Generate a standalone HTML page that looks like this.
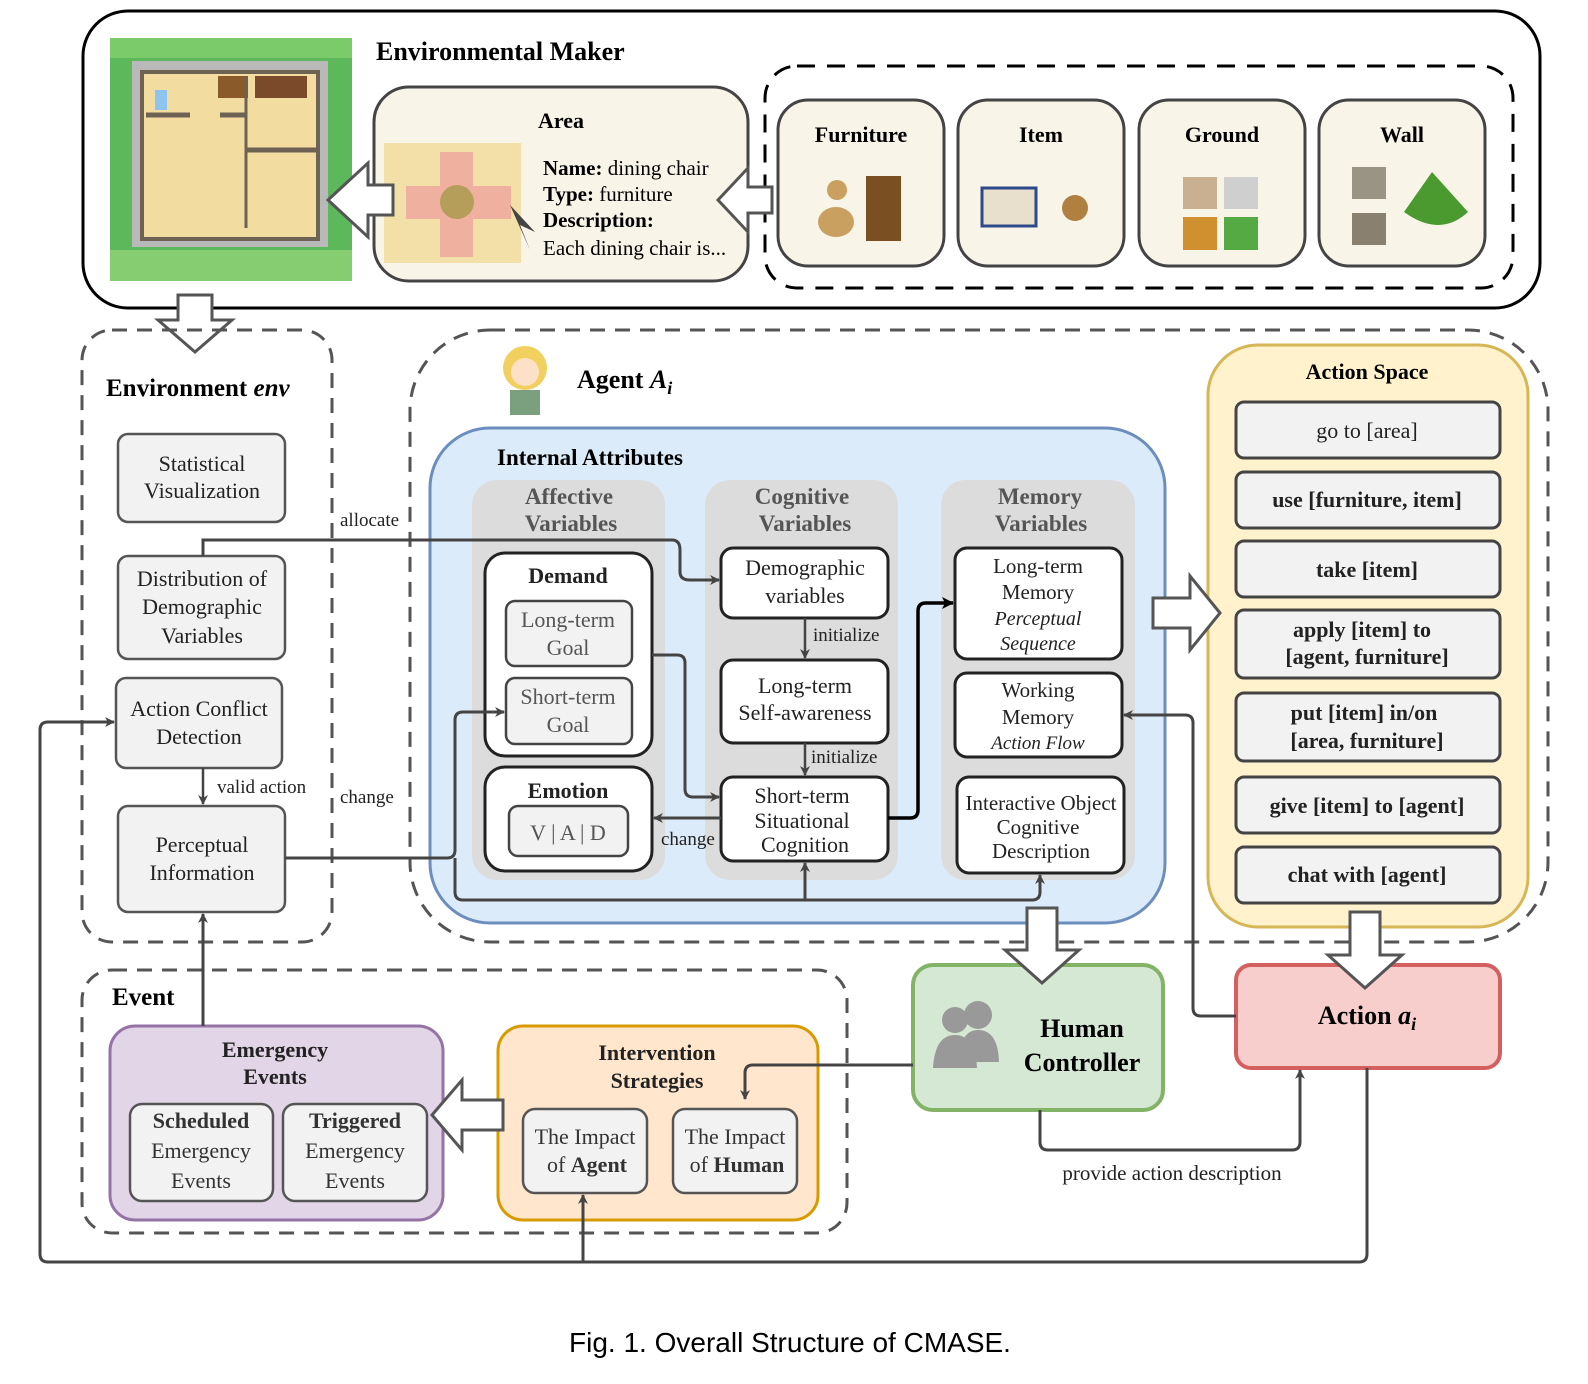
<!DOCTYPE html>
<html><head><meta charset="utf-8"><style>
html,body{margin:0;padding:0;background:#fff;}
svg{display:block;}
text{font-family:"Liberation Serif",serif;}
.b{font-weight:bold;}
</style></head><body>
<svg width="1588" height="1384" viewBox="0 0 1588 1384" xmlns="http://www.w3.org/2000/svg">
<defs>
<marker id="ah" markerWidth="10" markerHeight="10" refX="9" refY="5" orient="auto" markerUnits="userSpaceOnUse">
<path d="M0,0 L10,5 L0,10 L3,5 z" fill="#444"/></marker>
<marker id="ahk" markerWidth="12" markerHeight="12" refX="11" refY="6" orient="auto" markerUnits="userSpaceOnUse">
<path d="M0,0 L12,6 L0,12 L3,6 z" fill="#000"/></marker>
</defs>

<!-- Top box -->
<rect x="83" y="11" width="1457" height="297" rx="45" fill="#fff" stroke="#000" stroke-width="3"/>
<!-- map -->
<rect x="110" y="38" width="242" height="243" fill="#5cb85a"/>
<rect x="110" y="38" width="242" height="20" fill="#7ccb6a"/>
<rect x="110" y="250" width="242" height="31" fill="#86cc70"/>
<rect x="132" y="61" width="196" height="186" fill="#b9b9b9"/>
<rect x="142" y="72" width="176" height="167" fill="#f2dca0" stroke="#6d6253" stroke-width="4"/>
<rect x="218" y="76" width="30" height="22" fill="#8a5a2a"/>
<rect x="255" y="76" width="52" height="22" fill="#7a4a2a"/>
<rect x="150" y="150" width="0" height="0"/>
<line x1="246" y1="150" x2="316" y2="150" stroke="#6d6253" stroke-width="5"/>
<line x1="146" y1="115" x2="190" y2="115" stroke="#6d6253" stroke-width="5"/>
<line x1="220" y1="115" x2="245" y2="115" stroke="#6d6253" stroke-width="5"/>
<line x1="246" y1="76" x2="246" y2="228" stroke="#6d6253" stroke-width="3"/>
<rect x="155" y="90" width="12" height="20" fill="#8ec4f0"/>
<!-- Environmental Maker -->
<text x="376" y="60" font-size="26" class="b">Environmental Maker</text>
<rect x="374" y="87" width="374" height="194" rx="35" fill="#f8f5e8" stroke="#444" stroke-width="3"/>
<text x="561" y="128" font-size="22" class="b" text-anchor="middle">Area</text>
<rect x="384" y="143" width="137" height="120" fill="#f3dfa8"/>
<rect x="440" y="152" width="33" height="105" fill="#f0b0a0"/>
<rect x="406" y="186" width="105" height="33" fill="#f0b0a0"/>
<circle cx="457" cy="202" r="17" fill="#b59d5a"/>
<path d="M510,205 L530,250 L520,225 L535,232 z" fill="#444"/>
<text font-size="21" x="543" y="175"><tspan class="b">Name:</tspan> dining chair</text>
<text font-size="21" x="543" y="201"><tspan class="b">Type:</tspan> furniture</text>
<text font-size="21" x="543" y="227" class="b">Description:</text>
<text font-size="21" x="543" y="255">Each dining chair is...</text>
<polygon points="328,200 368,163 368,185 393,185 393,215 368,215 368,237" fill="#fff" stroke="#555" stroke-width="3"/>
<rect x="765" y="66" width="748" height="222" rx="32" fill="none" stroke="#000" stroke-width="3" stroke-dasharray="18,12"/>
<polygon points="718,200 748,168 748,187 772,187 772,213 748,213 748,232" fill="#fff" stroke="#555" stroke-width="3"/>
<g fill="#f8f5e8" stroke="#444" stroke-width="3">
<rect x="778" y="100" width="166" height="166" rx="30"/>
<rect x="958" y="100" width="166" height="166" rx="30"/>
<rect x="1139" y="100" width="166" height="166" rx="30"/>
<rect x="1319" y="100" width="166" height="166" rx="30"/>
</g>
<g font-size="22" class="b" text-anchor="middle">
<text x="861" y="142">Furniture</text><text x="1041" y="142">Item</text>
<text x="1222" y="142">Ground</text><text x="1402" y="142">Wall</text>
</g>
<circle cx="837" cy="190" r="10" fill="#c9a060"/><ellipse cx="836" cy="222" rx="18" ry="15" fill="#c9a060"/>
<rect x="866" y="176" width="35" height="65" fill="#7a5022"/>
<rect x="982" y="188" width="54" height="38" fill="#e8e0cc" stroke="#2c4a8a" stroke-width="3"/>
<circle cx="1075" cy="208" r="13" fill="#b08040"/>
<rect x="1183" y="177" width="34" height="32" fill="#c8b090"/><rect x="1224" y="177" width="34" height="32" fill="#cfcfcf"/>
<rect x="1183" y="217" width="34" height="33" fill="#d09030"/><rect x="1224" y="217" width="34" height="33" fill="#55aa44"/>
<rect x="1352" y="167" width="34" height="32" fill="#9a9484"/><rect x="1352" y="213" width="34" height="32" fill="#8a8070"/>
<path d="M1432,172 L1468,212 Q1440,238 1404,212 z" fill="#4a9a30"/>
<polygon points="195,352 232,320 212,320 212,295 178,295 178,320 158,320" fill="#fff" stroke="#555" stroke-width="3"/>

<!-- Environment env -->
<rect x="82" y="330" width="250" height="612" rx="30" fill="none" stroke="#555" stroke-width="3" stroke-dasharray="15,10"/>
<text x="106" y="396" font-size="25" class="b">Environment <tspan font-style="italic">env</tspan></text>
<g fill="#f2f2f2" stroke="#555" stroke-width="2.5">
<rect x="118" y="434" width="167" height="88" rx="10"/>
<rect x="118" y="556" width="167" height="103" rx="10"/>
<rect x="116" y="678" width="166" height="90" rx="10"/>
<rect x="118" y="806" width="167" height="106" rx="10"/>
</g>
<g font-size="22" text-anchor="middle" fill="#222">
<text x="202" y="471">Statistical</text><text x="202" y="498">Visualization</text>
<text x="202" y="586">Distribution of</text><text x="202" y="614">Demographic</text><text x="202" y="643">Variables</text>
<text x="199" y="716">Action Conflict</text><text x="199" y="744">Detection</text>
<text x="202" y="852">Perceptual</text><text x="202" y="880">Information</text>
</g>

<!-- Agent region -->
<rect x="410" y="330" width="1138" height="612" rx="80" fill="none" stroke="#555" stroke-width="3" stroke-dasharray="15,10"/>
<circle cx="525" cy="368" r="22" fill="#f2d060"/><circle cx="525" cy="372" r="14" fill="#fde0c8"/>
<rect x="510" y="390" width="30" height="25" fill="#7aa080"/>
<text x="577" y="388" font-size="26" class="b">Agent <tspan font-style="italic">A<tspan font-size="18" dy="6">i</tspan></tspan></text>

<rect x="430" y="428" width="735" height="495" rx="60" fill="#dcebf9" stroke="#6c8ebf" stroke-width="3"/>
<text x="497" y="465" font-size="23" class="b">Internal Attributes</text>
<g fill="#dcdcdc">
<rect x="472" y="480" width="193" height="400" rx="25"/>
<rect x="705" y="480" width="193" height="400" rx="25"/>
<rect x="941" y="480" width="194" height="400" rx="25"/>
</g>
<g font-size="23" class="b" text-anchor="middle" fill="#555">
<text x="569" y="504">Affective</text><text x="571" y="531">Variables</text>
<text x="802" y="504">Cognitive</text><text x="805" y="531">Variables</text>
<text x="1040" y="504">Memory</text><text x="1041" y="531">Variables</text>
</g>
<g fill="#fff" stroke="#222" stroke-width="3">
<rect x="485" y="553" width="167" height="203" rx="20"/>
<rect x="485" y="767" width="167" height="104" rx="20"/>
<rect x="721" y="548" width="167" height="70" rx="12"/>
<rect x="721" y="660" width="167" height="83" rx="12"/>
<rect x="721" y="777" width="167" height="84" rx="12"/>
<rect x="955" y="548" width="167" height="111" rx="12"/>
<rect x="955" y="673" width="167" height="84" rx="12"/>
<rect x="957" y="777" width="167" height="96" rx="12"/>
</g>
<g fill="#f2f2f2" stroke="#444" stroke-width="2.5">
<rect x="506" y="601" width="126" height="65" rx="9"/>
<rect x="506" y="678" width="126" height="66" rx="9"/>
<rect x="509" y="806" width="119" height="50" rx="9"/>
</g>
<g font-size="22" text-anchor="middle" fill="#222">
<text x="568" y="583" class="b">Demand</text>
<text x="568" y="627" fill="#555">Long-term</text><text x="568" y="655" fill="#555">Goal</text>
<text x="568" y="704" fill="#555">Short-term</text><text x="568" y="732" fill="#555">Goal</text>
<text x="568" y="798" class="b">Emotion</text>
<text x="568" y="840" fill="#555">V | A | D</text>
<text x="805" y="575">Demographic</text><text x="805" y="603">variables</text>
<text x="805" y="693">Long-term</text><text x="805" y="720">Self-awareness</text>
<text x="802" y="803">Short-term</text><text x="802" y="828">Situational</text><text x="805" y="852">Cognition</text>
<text x="1038" y="573" font-size="21">Long-term</text><text x="1038" y="599" font-size="21">Memory</text>
<text x="1038" y="625" font-size="20" font-style="italic">Perceptual</text><text x="1038" y="650" font-size="20" font-style="italic">Sequence</text>
<text x="1038" y="697" font-size="21">Working</text><text x="1038" y="724" font-size="21">Memory</text>
<text x="1038" y="749" font-size="19" font-style="italic">Action Flow</text>
<text x="1041" y="810" font-size="21">Interactive Object</text><text x="1038" y="834" font-size="21">Cognitive</text><text x="1041" y="858" font-size="21">Description</text>
</g>

<!-- Action space -->
<rect x="1208" y="345" width="320" height="582" rx="50" fill="#fff2cc" stroke="#d6b656" stroke-width="3"/>
<text x="1367" y="379" font-size="22" class="b" text-anchor="middle">Action Space</text>
<g fill="#f2f2f2" stroke="#444" stroke-width="3">
<rect x="1236" y="402" width="264" height="56" rx="8"/>
<rect x="1236" y="472" width="264" height="56" rx="8"/>
<rect x="1236" y="541" width="264" height="56" rx="8"/>
<rect x="1236" y="610" width="264" height="68" rx="8"/>
<rect x="1236" y="693" width="264" height="68" rx="8"/>
<rect x="1236" y="777" width="264" height="56" rx="8"/>
<rect x="1236" y="847" width="264" height="56" rx="8"/>
</g>
<g font-size="22" text-anchor="middle" fill="#222">
<text x="1367" y="438">go to [area]</text>
<text x="1367" y="507" class="b">use [furniture, item]</text>
<text x="1367" y="577" class="b">take [item]</text>
<text x="1362" y="637" class="b">apply [item] to</text><text x="1367" y="664" class="b">[agent, furniture]</text>
<text x="1364" y="720" class="b">put [item] in/on</text><text x="1367" y="748" class="b">[area, furniture]</text>
<text x="1367" y="813" class="b">give [item] to [agent]</text>
<text x="1367" y="882" class="b">chat with [agent]</text>
</g>
<polygon points="1220,613 1190,576 1190,598 1153,598 1153,628 1190,628 1190,650" fill="#fff" stroke="#555" stroke-width="3"/>

<!-- Human controller, action -->
<rect x="913" y="965" width="250" height="145" rx="20" fill="#d5e8d4" stroke="#82b366" stroke-width="4"/>
<circle cx="955" cy="1020" r="13" fill="#999"/><circle cx="978" cy="1015" r="14" fill="#999"/>
<path d="M933,1068 Q935,1035 955,1035 Q975,1035 977,1068 z" fill="#999"/><path d="M958,1062 Q960,1030 978,1030 Q998,1030 999,1062 z" fill="#999"/>
<text x="1082" y="1037" font-size="26" class="b" text-anchor="middle">Human</text>
<text x="1082" y="1071" font-size="26" class="b" text-anchor="middle">Controller</text>
<rect x="1236" y="965" width="264" height="103" rx="15" fill="#f8cecc" stroke="#d35f5f" stroke-width="4"/>
<text x="1367" y="1024" font-size="26" class="b" text-anchor="middle">Action <tspan font-style="italic">a<tspan font-size="18" dy="6">i</tspan></tspan></text>
<polygon points="1042,983 1079,950 1057,950 1057,908 1027,908 1027,950 1005,950" fill="#fff" stroke="#555" stroke-width="3"/>
<polygon points="1365,988 1402,955 1380,955 1380,912 1350,912 1350,955 1328,955" fill="#fff" stroke="#555" stroke-width="3"/>

<!-- Event -->
<rect x="82" y="970" width="765" height="263" rx="30" fill="none" stroke="#555" stroke-width="3" stroke-dasharray="15,10"/>
<text x="112" y="1005" font-size="25" class="b">Event</text>
<rect x="110" y="1026" width="333" height="194" rx="25" fill="#e1d5e7" stroke="#9673a6" stroke-width="3"/>
<rect x="498" y="1026" width="320" height="194" rx="25" fill="#ffe6cc" stroke="#d79b00" stroke-width="3"/>
<g fill="#f2f2f2" stroke="#555" stroke-width="2.5">
<rect x="130" y="1104" width="143" height="97" rx="12"/>
<rect x="283" y="1104" width="144" height="97" rx="12"/>
<rect x="523" y="1109" width="124" height="84" rx="12"/>
<rect x="673" y="1109" width="124" height="84" rx="12"/>
</g>
<g font-size="22" text-anchor="middle" fill="#222">
<text x="275" y="1057" class="b">Emergency</text><text x="275" y="1084" class="b">Events</text>
<text x="201" y="1128" class="b" fill="#333">Scheduled</text><text x="201" y="1158" fill="#333">Emergency</text><text x="201" y="1188" fill="#333">Events</text>
<text x="355" y="1128" class="b" fill="#333">Triggered</text><text x="355" y="1158" fill="#333">Emergency</text><text x="355" y="1188" fill="#333">Events</text>
<text x="657" y="1060" class="b">Intervention</text><text x="657" y="1088" class="b">Strategies</text>
<text x="585" y="1144" fill="#333">The Impact</text><text x="587" y="1172" fill="#333">of <tspan class="b">Agent</tspan></text>
<text x="735" y="1144" fill="#333">The Impact</text><text x="737" y="1172" fill="#333">of <tspan class="b">Human</tspan></text>
</g>
<polygon points="432,1115 462,1080 462,1100 503,1100 503,1130 462,1130 462,1150" fill="#fff" stroke="#555" stroke-width="3"/>

<!-- connectors -->
<g fill="none" stroke="#444" stroke-width="3">
<path d="M203,556 V540 H672 Q680,540 680,550 V572 Q680,580 690,580 H719" marker-end="url(#ah)"/>
<path d="M285,858 H447 Q455,858 455,850 V720 Q455,712 463,712 H504" marker-end="url(#ah)"/>
<path d="M455,858 V892 Q455,900 463,900 H1032 Q1040,900 1040,892 V875" marker-end="url(#ah)"/>
<path d="M805,900 V863" marker-end="url(#ah)"/>
<path d="M652,655 H677 Q685,655 685,663 V789 Q685,797 693,797 H719" marker-end="url(#ah)"/>
<path d="M721,818 H654" marker-end="url(#ah)"/>
<path d="M805,618 V658" stroke-width="2.5" marker-end="url(#ah)"/>
<path d="M805,743 V775" stroke-width="2.5" marker-end="url(#ah)"/>
<path d="M1236,1016 H1201 Q1193,1016 1193,1008 V723 Q1193,715 1185,715 H1124" marker-end="url(#ah)"/>
<path d="M1367,1068 V1254 Q1367,1262 1359,1262 H48 Q40,1262 40,1254 V730 Q40,722 48,722 H114" marker-end="url(#ah)"/>
<path d="M583,1262 V1195" marker-end="url(#ah)"/>
<path d="M913,1065 H753 Q745,1065 745,1073 V1099" marker-end="url(#ah)"/>
<path d="M1040,1110 V1142 Q1040,1150 1048,1150 H1292 Q1300,1150 1300,1142 V1070" marker-end="url(#ah)"/>
<path d="M203,768 V804" stroke-width="2.5" marker-end="url(#ah)"/>
<path d="M203,1026 V914" marker-end="url(#ah)"/>
</g>
<path d="M888,818 H910 Q918,818 918,810 V611 Q918,603 926,603 H953" fill="none" stroke="#000" stroke-width="3.5" marker-end="url(#ahk)"/>
<g font-size="19" fill="#222">
<text x="340" y="526">allocate</text>
<text x="340" y="803">change</text>
<text x="661" y="845">change</text>
<text x="813" y="641">initialize</text>
<text x="811" y="763">initialize</text>
<text x="217" y="793">valid action</text>
</g>
<text x="1172" y="1180" font-size="21" text-anchor="middle" fill="#222">provide action description</text>

<text x="790" y="1352" font-size="28" text-anchor="middle" style="font-family:'Liberation Sans','DejaVu Sans',sans-serif">Fig. 1.  Overall Structure of CMASE.</text>
</svg>
</body></html>
